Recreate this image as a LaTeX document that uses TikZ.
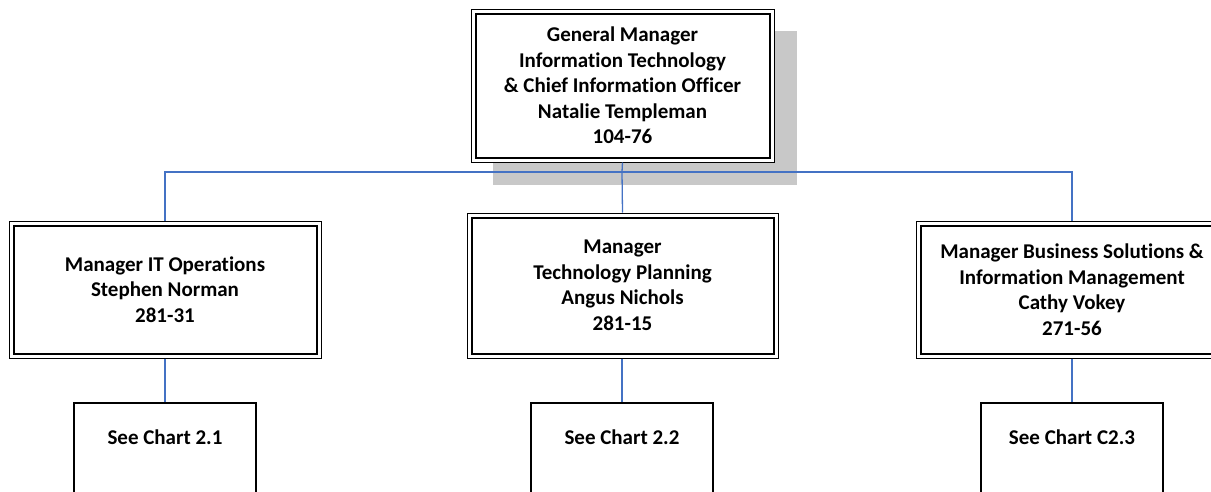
\documentclass[tikz,border=0pt]{standalone}
\usepackage{fontspec}
\setmainfont[Ligatures=NoCommon]{Carlito}
\usetikzlibrary{backgrounds}
\definecolor{linkblue}{RGB}{68,114,196}
\definecolor{shadowgray}{RGB}{200,200,200}
\begin{document}
\begin{tikzpicture}[x=1pt,y=-1pt,
  mgrbox/.style={draw=black, line width=1pt, fill=white, align=center,
    font=\fontsize{21}{25.5}\selectfont\bfseries, inner sep=0pt},
  chartbox/.style={draw=black, line width=1.6pt, fill=white, anchor=north,
    minimum width=182pt, text height=15pt, text depth=80pt, inner ysep=27pt,
    font=\fontsize{21}{25.5}\selectfont\bfseries},
  link/.style={draw=linkblue, line width=1.3pt}
]
\path[use as bounding box, clip] (0,0) rectangle (1211,491);

% manager boxes (outer frame = node border)
\node[mgrbox, minimum width=303pt, minimum height=153pt] (gm) at (622.5,85.5)
  {General Manager\\Information Technology\\\& Chief Information Officer\\Natalie Templeman\\104-76};
\node[mgrbox, minimum width=312pt, minimum height=137pt] (ops) at (165,289.5)
  {Manager IT Operations\\Stephen Norman\\281-31};
\node[mgrbox, minimum width=311pt, minimum height=145pt] (plan) at (622.5,285.5)
  {Manager\\Technology Planning\\Angus Nichols\\281-15};
\node[mgrbox, minimum width=312pt, minimum height=137pt] (bus) at (1072,289.5)
  {Manager Business Solutions \&\\Information Management\\Cathy Vokey\\271-56};

% inner thick frames
\foreach \n in {gm,ops,plan,bus}
  \draw[line width=2pt] ([shift={(5pt,-5pt)}]\n.north west) rectangle ([shift={(-5pt,5pt)}]\n.south east);

% shadow behind the top box
\begin{pgfonlayer}{background}
  \fill[shadowgray] ([shift={(22pt,-22pt)}]gm.north west) rectangle ([shift={(22pt,-22pt)}]gm.south east);
\end{pgfonlayer}

% chart boxes
\node[chartbox] (c1) at (165,402) {See Chart 2.1};
\node[chartbox] (c2) at (622,402) {See Chart 2.2};
\node[chartbox] (c3) at (1072,402) {See Chart C2.3};

% connectors
\coordinate (j) at (622,172);
\path[link] (gm.south) -- (j);
\path[link] (ops.north) |- (j) -| (bus.north);
\path[link] (j) -- (plan.north);
\path[link] (ops.south) -- (c1.north);
\path[link] (plan.south -| c2.north) -- (c2.north);
\path[link] (bus.south) -- (c3.north);
\end{tikzpicture}
\end{document}
